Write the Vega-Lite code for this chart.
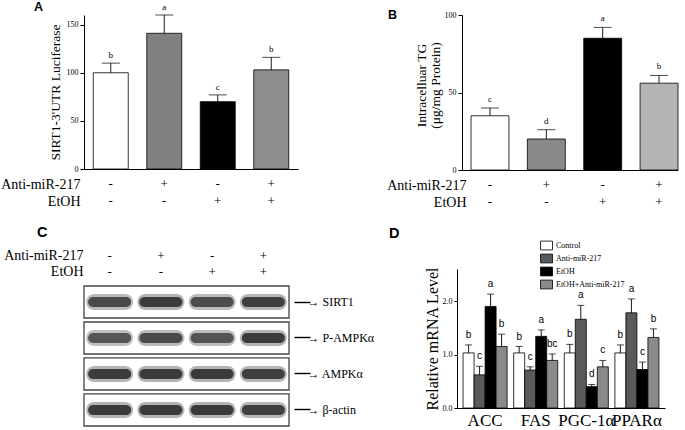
{
  "$schema": "https://vega.github.io/schema/vega-lite/v6.json",
  "padding": 0,
  "autosize": {"type": "pad"},
  "background": "white",
  "config": {
    "view": {"stroke": null},
    "font": "Liberation Serif",
    "axis": {"grid": false, "domainColor": "#000", "tickColor": "#000", "labelColor": "#000", "titleColor": "#000", "titleFontWeight": "normal", "labelFont": "Liberation Serif", "titleFont": "Liberation Serif"},
    "legend": {"labelFont": "Liberation Serif"},
    "title": {"font": "Liberation Sans", "fontWeight": "bold", "fontSize": 15, "anchor": "start", "frame": "group", "color": "#000"}
  },
  "datasets": {
    "lucA": [
      {"cond": "-|-", "grp": "Control", "value": 100, "err": 110, "sig": "b"},
      {"cond": "+|-", "grp": "Anti-miR-217", "value": 141, "err": 160, "sig": "a"},
      {"cond": "-|+", "grp": "EtOH", "value": 70, "err": 77, "sig": "c"},
      {"cond": "+|+", "grp": "EtOH+Anti-miR-217", "value": 103, "err": 116, "sig": "b"}
    ],
    "tgB": [
      {"cond": "-|-", "grp": "Control", "value": 35, "err": 40, "sig": "c"},
      {"cond": "+|-", "grp": "Anti-miR-217", "value": 20, "err": 26, "sig": "d"},
      {"cond": "-|+", "grp": "EtOH", "value": 85, "err": 92, "sig": "a"},
      {"cond": "+|+", "grp": "EtOH+Anti-miR-217", "value": 56, "err": 61, "sig": "b"}
    ],
    "proteins": [
      {"protein": "SIRT1"}, {"protein": "P-AMPKα"}, {"protein": "AMPKα"}, {"protein": "β-actin"}
    ],
    "blot": [
      {"protein": "SIRT1", "lane": "-|-", "intensity": 0.75},
      {"protein": "SIRT1", "lane": "+|-", "intensity": 0.95},
      {"protein": "SIRT1", "lane": "-|+", "intensity": 0.7},
      {"protein": "SIRT1", "lane": "+|+", "intensity": 0.9},
      {"protein": "P-AMPKα", "lane": "-|-", "intensity": 0.55},
      {"protein": "P-AMPKα", "lane": "+|-", "intensity": 0.75},
      {"protein": "P-AMPKα", "lane": "-|+", "intensity": 0.6},
      {"protein": "P-AMPKα", "lane": "+|+", "intensity": 0.95},
      {"protein": "AMPKα", "lane": "-|-", "intensity": 0.95},
      {"protein": "AMPKα", "lane": "+|-", "intensity": 0.95},
      {"protein": "AMPKα", "lane": "-|+", "intensity": 0.95},
      {"protein": "AMPKα", "lane": "+|+", "intensity": 0.9},
      {"protein": "β-actin", "lane": "-|-", "intensity": 0.95},
      {"protein": "β-actin", "lane": "+|-", "intensity": 0.95},
      {"protein": "β-actin", "lane": "-|+", "intensity": 0.95},
      {"protein": "β-actin", "lane": "+|+", "intensity": 0.9}
    ],
    "mrna": [
      {"gene": "ACC", "group": "Control", "value": 1.03, "err": 1.18, "sig": "b"},
      {"gene": "ACC", "group": "Anti-miR-217", "value": 0.62, "err": 0.78, "sig": "c"},
      {"gene": "ACC", "group": "EtOH", "value": 1.9, "err": 2.13, "sig": "a"},
      {"gene": "ACC", "group": "EtOH+Anti-miR-217", "value": 1.15, "err": 1.38, "sig": "b"},
      {"gene": "FAS", "group": "Control", "value": 1.03, "err": 1.15, "sig": "b"},
      {"gene": "FAS", "group": "Anti-miR-217", "value": 0.71, "err": 0.77, "sig": "c"},
      {"gene": "FAS", "group": "EtOH", "value": 1.34, "err": 1.46, "sig": "a"},
      {"gene": "FAS", "group": "EtOH+Anti-miR-217", "value": 0.89, "err": 1.01, "sig": "bc"},
      {"gene": "PGC-1α", "group": "Control", "value": 1.03, "err": 1.19, "sig": "b"},
      {"gene": "PGC-1α", "group": "Anti-miR-217", "value": 1.66, "err": 1.92, "sig": "a"},
      {"gene": "PGC-1α", "group": "EtOH", "value": 0.4, "err": 0.44, "sig": "d"},
      {"gene": "PGC-1α", "group": "EtOH+Anti-miR-217", "value": 0.77, "err": 0.89, "sig": "c"},
      {"gene": "PPARα", "group": "Control", "value": 1.03, "err": 1.18, "sig": "b"},
      {"gene": "PPARα", "group": "Anti-miR-217", "value": 1.78, "err": 2.04, "sig": "a"},
      {"gene": "PPARα", "group": "EtOH", "value": 0.72, "err": 0.86, "sig": "c"},
      {"gene": "PPARα", "group": "EtOH+Anti-miR-217", "value": 1.32, "err": 1.48, "sig": "b"}
    ]
  },
  "spacing": 15,
  "resolve": {"scale": {"fill": "independent", "color": "independent"}, "legend": {"fill": "independent", "color": "independent"}},
  "vconcat": [
    {
      "spacing": 88,
      "resolve": {"scale": {"fill": "independent", "color": "independent"}, "legend": {"fill": "independent", "color": "independent"}},
      "hconcat": [
        {
          "title": {"text": "A", "dx": -50, "offset": -10, "fontSize": 12.5},
          "width": 214, "height": 154,
          "data": {"name": "lucA"},
          "encoding": {
            "x": {"field": "cond", "type": "nominal", "sort": null,
              "scale": {"paddingInner": 0.346, "paddingOuter": 0.173},
              "axis": {"labelExpr": "split(datum.value, '|')", "labelAngle": 0, "ticks": false, "labelFont": "Liberation Serif", "labelFontSize": 13, "labelLineHeight": 17, "labelPadding": 8, "labelBaseline": "top",
                "title": ["Anti-miR-217", "EtOH"], "titleFont": "Liberation Serif", "titleFontSize": 14, "titleLineHeight": 17, "titleAlign": "right", "titleX": -4, "titleY": 8, "titleBaseline": "top"}}
          },
          "layer": [
            {"mark": {"type": "bar", "stroke": "#000", "strokeWidth": 0.8},
              "encoding": {
                "y": {"field": "value", "type": "quantitative", "scale": {"domain": [0, 160]}, "title": "SIRT1-3'UTR  Luciferase",
                  "axis": {"values": [0, 50, 100, 150], "titleFont": "Liberation Serif", "titleFontSize": 13.5, "labelFont": "Liberation Serif", "labelFontSize": 8, "tickSize": 4, "titleX": -22, "titleY": 77, "titleBaseline": "bottom", "titleAngle": -90, "titleAlign": "center"}},
                "fill": {"field": "grp", "type": "nominal", "legend": null,
                  "scale": {"domain": ["Control", "Anti-miR-217", "EtOH", "EtOH+Anti-miR-217"], "range": ["#ffffff", "#808080", "#000000", "#8e8e8e"]}}
              }},
            {"mark": {"type": "rule", "stroke": "#000", "strokeWidth": 0.9},
              "encoding": {"y": {"field": "value", "type": "quantitative", "title": "SIRT1-3'UTR  Luciferase"}, "y2": {"field": "err"}}},
            {"mark": {"type": "tick", "orient": "horizontal", "size": 18, "thickness": 1, "color": "#000"},
              "encoding": {"y": {"field": "err", "type": "quantitative", "title": "SIRT1-3'UTR  Luciferase"}}},
            {"mark": {"type": "text", "baseline": "bottom", "dy": -3, "fontSize": 9, "font": "Liberation Serif"},
              "encoding": {"y": {"field": "err", "type": "quantitative", "title": "SIRT1-3'UTR  Luciferase"}, "text": {"field": "sig"}}}
          ]
        },
        {
          "title": {"text": "B", "dx": -74, "offset": -10, "fontSize": 12.5},
          "width": 216, "height": 155,
          "data": {"name": "tgB"},
          "encoding": {
            "x": {"field": "cond", "type": "nominal", "sort": null,
              "scale": {"paddingInner": 0.327, "paddingOuter": 0.08, "align": 1},
              "axis": {"labelExpr": "split(datum.value, '|')", "labelAngle": 0, "ticks": false, "labelFont": "Liberation Serif", "labelFontSize": 13, "labelLineHeight": 17, "labelPadding": 8, "labelBaseline": "top",
                "title": ["Anti-miR-217", "EtOH"], "titleFont": "Liberation Serif", "titleFontSize": 14, "titleLineHeight": 17, "titleAlign": "right", "titleX": 4, "titleY": 8, "titleBaseline": "top"}}
          },
          "layer": [
            {"mark": {"type": "bar", "stroke": "#000", "strokeWidth": 0.8},
              "encoding": {
                "y": {"field": "value", "type": "quantitative", "scale": {"domain": [0, 100]}, "title": ["Intracelluar  TG", "(μg/mg  Protein)"],
                  "axis": {"values": [0, 25, 50, 75, 100], "titleFont": "Liberation Serif", "titleFontSize": 13.5, "titleLineHeight": 14, "labelFont": "Liberation Serif", "labelFontSize": 8, "tickSize": 4, "titleX": -34, "titleY": 70, "titleBaseline": "bottom", "titleAngle": -90, "titleAlign": "center"}},
                "fill": {"field": "grp", "type": "nominal", "legend": null,
                  "scale": {"domain": ["Control", "Anti-miR-217", "EtOH", "EtOH+Anti-miR-217"], "range": ["#ffffff", "#888888", "#000000", "#b4b4b4"]}}
              }},
            {"mark": {"type": "rule", "stroke": "#000", "strokeWidth": 0.9},
              "encoding": {"y": {"field": "value", "type": "quantitative", "title": ["Intracelluar  TG", "(μg/mg  Protein)"]}, "y2": {"field": "err"}}},
            {"mark": {"type": "tick", "orient": "horizontal", "size": 18, "thickness": 1, "color": "#000"},
              "encoding": {"y": {"field": "err", "type": "quantitative", "title": ["Intracelluar  TG", "(μg/mg  Protein)"]}}},
            {"mark": {"type": "text", "baseline": "bottom", "dy": -4, "fontSize": 9, "font": "Liberation Serif"},
              "encoding": {"y": {"field": "err", "type": "quantitative", "title": ["Intracelluar  TG", "(μg/mg  Protein)"]}, "text": {"field": "sig"}}}
          ]
        }
      ]
    },
    {
      "spacing": 15,
      "resolve": {"scale": {"fill": "independent", "color": "independent"}, "legend": {"fill": "independent", "color": "independent"}},
      "hconcat": [
        {
          "title": {"text": "C", "dx": -47, "offset": 8, "fontSize": 14.5},
          "width": 205, "height": 157,
          "layer": [
            {"data": {"name": "proteins"},
              "mark": {"type": "rect", "fill": "#ffffff", "stroke": "#444", "strokeWidth": 1.3},
              "encoding": {
                "y": {"field": "protein", "type": "nominal", "sort": null,
                  "scale": {"paddingInner": 0.11, "paddingOuter": 0.236, "align": 1},
                  "axis": {"orient": "right", "title": null, "domain": false, "offset": 5, "tickSize": 16, "tickWidth": 1.4, "labelPadding": -3, "labelFont": "Liberation Serif", "labelFontSize": 12,
                    "labelExpr": "'→ ' + datum.value"}},
                "x": {"value": 0}, "x2": {"value": "width"}
              }},
            {"data": {"name": "blot"},
              "mark": {"type": "tick", "orient": "horizontal", "size": 47, "thickness": 16, "cornerRadius": 8, "opacity": 0.3},
              "encoding": {
                "y": {"field": "protein", "type": "nominal", "sort": null},
                "x": {"field": "lane", "type": "nominal", "sort": null,
                  "scale": {"paddingInner": 0.1, "paddingOuter": 0.05},
                  "axis": {"orient": "top", "offset": -14, "domain": false, "ticks": false, "labelAngle": 0, "labelExpr": "split(datum.value, '|')", "labelFont": "Liberation Serif", "labelFontSize": 13, "labelLineHeight": 16, "labelPadding": 21,
                    "title": ["Anti-miR-217", "EtOH"], "titleFont": "Liberation Serif", "titleFontSize": 14, "titleLineHeight": 16, "titleAlign": "right", "titleX": -1, "titleY": -21, "titleBaseline": "bottom"}},
                "color": {"field": "intensity", "type": "quantitative", "legend": null, "scale": {"domain": [0.5, 1], "range": ["#2e2e2e", "#000000"]}}
              }},
            {"data": {"name": "blot"},
              "mark": {"type": "tick", "orient": "horizontal", "size": 43, "thickness": 10, "cornerRadius": 5},
              "encoding": {
                "y": {"field": "protein", "type": "nominal", "sort": null},
                "x": {"field": "lane", "type": "nominal", "sort": null},
                "color": {"field": "intensity", "type": "quantitative", "legend": null}
              }}
          ]
        },
        {
          "title": {"text": "D", "dx": -68, "offset": 0, "fontSize": 14.5},
          "width": 208, "height": 139,
          "data": {"name": "mrna"},
          "encoding": {
            "x": {"field": "gene", "type": "nominal", "sort": null,
              "scale": {"paddingInner": 0.13, "paddingOuter": 0.12},
              "axis": {"title": null, "labelAngle": 0, "ticks": false, "labelFont": "Liberation Serif", "labelFontSize": 17, "labelPadding": 4}},
            "xOffset": {"field": "group", "type": "nominal", "sort": null, "scale": {"paddingInner": 0, "paddingOuter": 0}}
          },
          "layer": [
            {"mark": {"type": "bar", "stroke": "#000", "strokeWidth": 0.8},
              "encoding": {
                "y": {"field": "value", "type": "quantitative", "scale": {"domain": [0, 2.5]}, "title": "Relative  mRNA  Level",
                  "axis": {"values": [0, 0.5, 1, 1.5, 2, 2.5], "format": ".1f", "titleFont": "Liberation Serif", "titleFontSize": 16, "labelFont": "Liberation Serif", "labelFontSize": 8, "tickSize": 3, "titlePadding": 2}},
                "fill": {"field": "group", "type": "nominal",
                  "scale": {"domain": ["Control", "Anti-miR-217", "EtOH", "EtOH+Anti-miR-217"], "range": ["#ffffff", "#5a5a5a", "#000000", "#8a8a8a"]},
                  "legend": {"orient": "none", "legendX": 85, "legendY": -28, "title": null, "symbolType": "M-1.5,-1.1H1.5V1.1H-1.5Z", "symbolSize": 64, "symbolStrokeColor": "#000", "symbolStrokeWidth": 0.8, "labelFont": "Liberation Serif", "labelFontSize": 8, "labelColor": "#000", "rowPadding": 0, "labelOffset": 5}}
              }},
            {"mark": {"type": "rule", "stroke": "#000", "strokeWidth": 0.9},
              "encoding": {"y": {"field": "value", "type": "quantitative", "title": "Relative  mRNA  Level"}, "y2": {"field": "err"}}},
            {"mark": {"type": "tick", "orient": "horizontal", "size": 7, "thickness": 1, "color": "#000"},
              "encoding": {"y": {"field": "err", "type": "quantitative", "title": "Relative  mRNA  Level"}}},
            {"mark": {"type": "text", "baseline": "bottom", "dy": -5, "fontSize": 10, "font": "Liberation Sans"},
              "encoding": {"y": {"field": "err", "type": "quantitative", "title": "Relative  mRNA  Level"}, "text": {"field": "sig"}}}
          ]
        }
      ]
    }
  ]
}
